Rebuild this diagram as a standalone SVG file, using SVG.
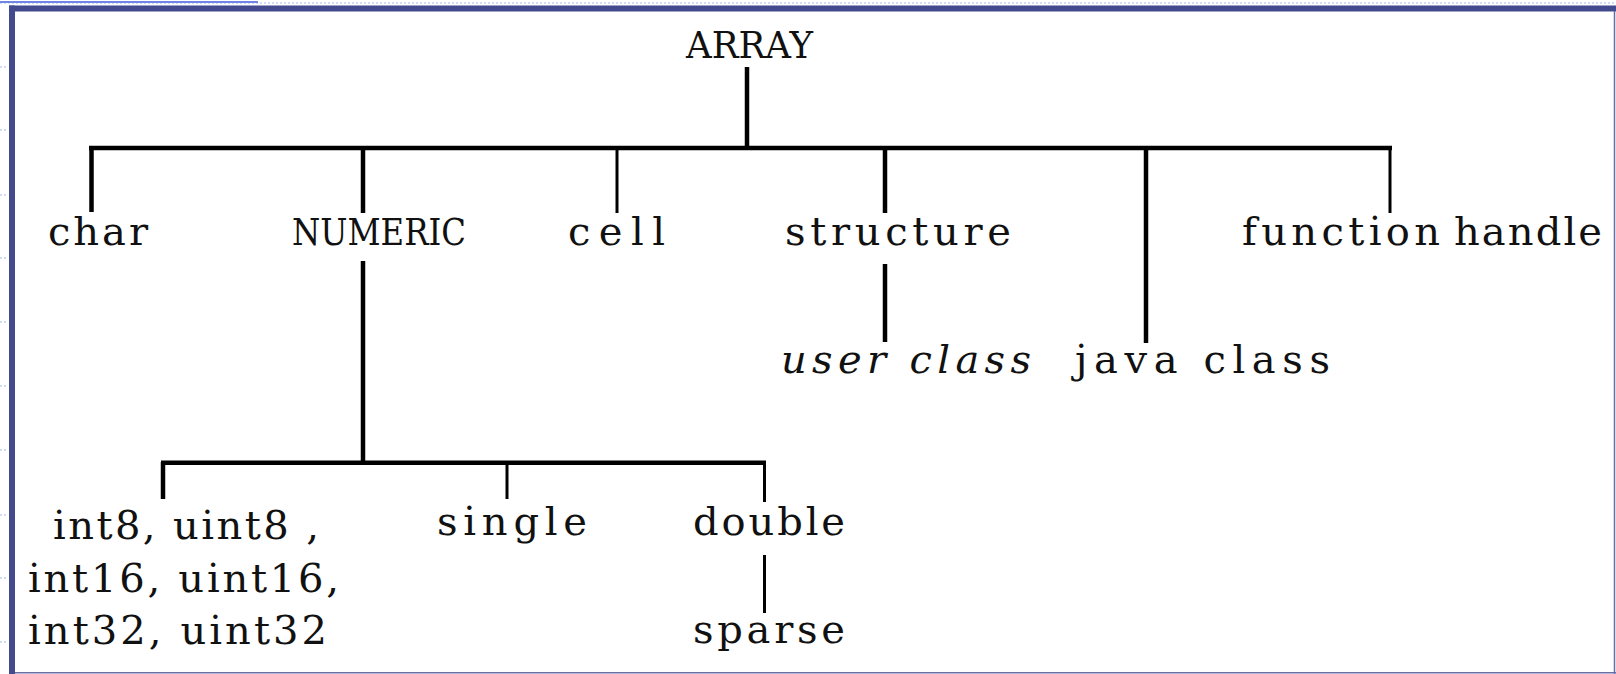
<svg xmlns="http://www.w3.org/2000/svg" width="1616" height="674" viewBox="0 0 1616 674">
<style>
.t{font-family:"DejaVu Serif","Liberation Serif",serif;font-size:40px;fill:#111;}
.u{font-size:38px;}
.i{font-style:italic;}
.c{stroke:#000;stroke-width:4.5;fill:none;stroke-linecap:butt;}
.th{stroke-width:3;}
.tick{stroke:#c3cff3;stroke-width:1.5;stroke-dasharray:2 2;}
</style>
<rect x="0" y="0" width="1616" height="674" fill="#ffffff"/>
<g id="frame">
<line x1="0" y1="3" x2="1616" y2="3" class="tick"/>
<line x1="0" y1="2" x2="258" y2="2" stroke="#6f86e6" stroke-width="2"/>
<g class="tick">
<line x1="0" y1="67" x2="8" y2="67"/><line x1="0" y1="130" x2="8" y2="130"/><line x1="0" y1="195" x2="8" y2="195"/><line x1="0" y1="258" x2="8" y2="258"/><line x1="0" y1="322" x2="8" y2="322"/><line x1="0" y1="386" x2="8" y2="386"/><line x1="0" y1="450" x2="8" y2="450"/><line x1="0" y1="515" x2="8" y2="515"/><line x1="0" y1="578" x2="8" y2="578"/><line x1="0" y1="642" x2="8" y2="642"/>
</g>
<rect x="9" y="5.5" width="1607" height="6" fill="#434a8e"/>
<rect x="9" y="5.5" width="6" height="668.5" fill="#434a8e"/>
<line x1="1614.5" y1="11" x2="1614.5" y2="674" stroke="#6a6ea8" stroke-width="1.5"/>
<line x1="15" y1="672.8" x2="1616" y2="672.8" stroke="#6a6ea8" stroke-width="1.5"/>
</g>
<g id="connectors">
<line class="c" x1="747" y1="67" x2="747" y2="148"/>
<line class="c" x1="89" y1="148" x2="1392" y2="148"/>
<line class="c" x1="91.5" y1="148" x2="91.5" y2="212"/>
<line class="c" x1="363" y1="148" x2="363" y2="213"/>
<line class="c th" x1="617" y1="148" x2="617" y2="213"/>
<line class="c" x1="885" y1="148" x2="885" y2="213"/>
<line class="c" x1="1146" y1="148" x2="1146" y2="343"/>
<line class="c th" x1="1390" y1="148" x2="1390" y2="213"/>
<line class="c" x1="885" y1="264" x2="885" y2="342"/>
<line class="c" x1="363" y1="261" x2="363" y2="463"/>
<line class="c" x1="161" y1="462.8" x2="766" y2="462.8"/>
<line class="c" x1="163" y1="462" x2="163" y2="499"/>
<line class="c th" x1="507" y1="462" x2="507" y2="499"/>
<line class="c th" x1="764.5" y1="462" x2="764.5" y2="502"/>
<line class="c th" x1="764.5" y1="555" x2="764.5" y2="613"/>
</g>
<g id="array"><text class="t u" x="686" y="58" textLength="127" lengthAdjust="spacingAndGlyphs">ARRAY</text></g>
<g id="char"><text class="t" x="48" y="245" textLength="100" lengthAdjust="spacing">char</text></g>
<g id="numeric"><text class="t u" x="292" y="245" textLength="174" lengthAdjust="spacingAndGlyphs">NUMERIC</text></g>
<g id="cell"><text class="t" x="568" y="245" textLength="97" lengthAdjust="spacing">cell</text></g>
<g id="structure"><text class="t" x="785" y="245" textLength="226" lengthAdjust="spacing">structure</text></g>
<g id="function-handle"><text class="t" x="1242" y="245" textLength="198" lengthAdjust="spacing">function</text><text class="t" x="1454" y="245" textLength="148" lengthAdjust="spacing">handle</text></g>
<g id="user-class"><text class="t i" x="781" y="373" textLength="250" lengthAdjust="spacing">user  class</text></g>
<g id="java-class"><text class="t" x="1075" y="373" textLength="255" lengthAdjust="spacing">java class</text></g>
<g id="ints">
<text class="t" x="53" y="539" textLength="266" lengthAdjust="spacing">int8, uint8 ,</text>
<text class="t" x="28" y="592" textLength="311" lengthAdjust="spacing">int16, uint16,</text>
<text class="t" x="28" y="644" textLength="299" lengthAdjust="spacing">int32, uint32</text>
</g>
<g id="single"><text class="t" x="437" y="535" textLength="150" lengthAdjust="spacing">single</text></g>
<g id="double"><text class="t" x="693" y="535" textLength="152" lengthAdjust="spacing">double</text></g>
<g id="sparse"><text class="t" x="693" y="643" textLength="152" lengthAdjust="spacing">sparse</text></g>
</svg>
